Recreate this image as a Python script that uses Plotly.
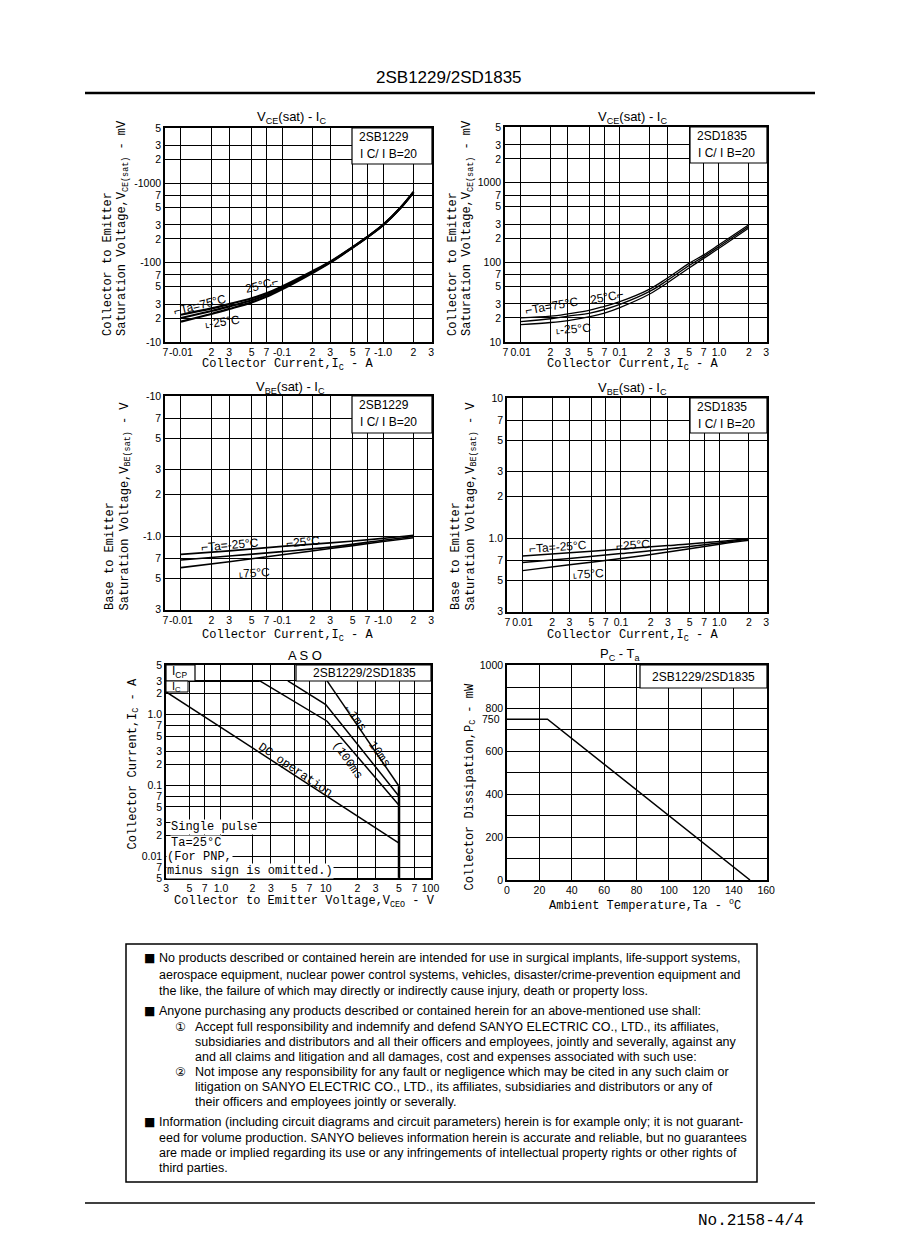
import numpy as np
import plotly.graph_objects as go

W, H = 898, 1260
OFF = 8  # page body margin of the browser


def px(x):
    return (x - OFF) / W


def py(y):
    return 1 - (y - OFF) / H


# ---------------- data ----------------
# VCE(sat) - IC, 2SB1229 (|values| in mV)
ic_vce_b = [0.01, 0.02, 0.03, 0.05, 0.07, 0.1, 0.2, 0.3, 0.5, 0.7, 1.0, 1.5, 2.0]
vce_b_75 = [22, 26.5, 30, 35.5, 41, 50, 78, 103, 157, 212, 300, 500, 780]
vce_b_25 = [20, 24.5, 28, 33.5, 39, 48, 76, 101.5, 156, 211, 299, 499, 778]
vce_b_m25 = [18, 22.5, 26, 31.5, 37, 46, 74, 100, 155, 210, 298, 498, 776]

# VCE(sat) - IC, 2SD1835 (mV)
ic_vce_d = [0.01, 0.02, 0.03, 0.05, 0.07, 0.1, 0.2, 0.3, 0.5, 0.7, 1.0, 2.0]
vce_d_75 = [20, 21, 22.5, 25, 28, 32, 46, 63, 97, 124, 166, 296]
vce_d_25 = [18, 19.5, 21, 23, 25.5, 29.5, 43, 59, 91, 118, 158, 283]
vce_d_m25 = [16.5, 17.5, 18.5, 20.7, 23, 27, 40, 55, 85, 112, 150, 270]

# VBE(sat) - IC (V)
ic_vbe = [0.01, 0.03, 0.1, 0.3, 1.0, 2.0]
vbe_b_m25 = [0.745, 0.79, 0.85, 0.90, 0.97, 1.02]
vbe_b_25 = [0.68, 0.725, 0.78, 0.84, 0.94, 1.00]
vbe_b_75 = [0.60, 0.66, 0.74, 0.82, 0.92, 0.98]
vbe_d_m25 = [0.75, 0.79, 0.84, 0.89, 0.95, 1.00]
vbe_d_25 = [0.675, 0.72, 0.78, 0.84, 0.93, 0.99]
vbe_d_75 = [0.59, 0.65, 0.72, 0.80, 0.91, 0.97]

# ASO (V, A)
aso_icp_v = [0.3, 2.35]
aso_icp_i = [3, 3]
aso_dc_v = [0.3, 50]
aso_dc_i = [2.1, 0.0155]
aso_100ms_v = [2.35, 10.3, 50]
aso_100ms_i = [3, 0.81, 0.053]
aso_10ms_v = [4.35, 10, 50]
aso_10ms_i = [3, 1.39, 0.071]
aso_1ms_v = [10.3, 50]
aso_1ms_i = [3, 0.098]
aso_vceo_v = [50, 50]
aso_vceo_i = [0.098, 0.005]

# PC - Ta
pc_ta = [0, 25, 150]
pc_mw = [750, 750, 0]

# tick values / labels
ic_ticks = [0.007, 0.01, 0.02, 0.03, 0.05, 0.07, 0.1, 0.2, 0.3, 0.5, 0.7, 1, 2, 3]
ic_text_b = ["7", "-0.01", "2", "3", "5", "7", "-0.1", "2", "3", "5", "7", "-1.0", "2", "3"]
ic_text_d = ["7", "0.01", "2", "3", "5", "7", "0.1", "2", "3", "5", "7", "1.0", "2", "3"]
vce_ticks = [10, 20, 30, 50, 70, 100, 200, 300, 500, 700, 1000, 2000, 3000, 5000]
vce_text_b = ["-10", "2", "3", "5", "7", "-100", "2", "3", "5", "7", "-1000", "2", "3", "5"]
vce_text_d = ["10", "2", "3", "5", "7", "100", "2", "3", "5", "7", "1000", "2", "3", "5"]
vbe_ticks = [0.3, 0.5, 0.7, 1, 2, 3, 5, 7, 10]
vbe_text_b = ["3", "5", "7", "-1.0", "2", "3", "5", "7", "-10"]
vbe_text_d = ["3", "5", "7", "1.0", "2", "3", "5", "7", "10"]
aso_x_ticks = [0.3, 0.5, 0.7, 1, 2, 3, 5, 7, 10, 20, 30, 50, 70, 100]
aso_x_text = ["3", "5", "7", "1.0", "2", "3", "5", "7", "10", "2", "3", "5", "7", "100"]
aso_y_ticks = [0.005, 0.007, 0.01, 0.02, 0.03, 0.05, 0.07, 0.1, 0.2, 0.3, 0.5, 0.7, 1, 2, 3, 5]
aso_y_text = ["5", "7", "0.01", "2", "3", "5", "7", "0.1", "2", "3", "5", "7", "1.0", "2", "3", "5"]
pc_x_ticks = [0, 20, 40, 60, 80, 100, 120, 140, 160]
pc_y_ticks = [0, 100, 200, 300, 400, 500, 600, 700, 800, 900, 1000]
pc_y_text = ["0", "", "200", "", "400", "", "600", "", "800", "", "1000"]

# ---------------- figure ----------------
NARROW = "Liberation Sans Narrow, Arial Narrow, Liberation Sans, Arial, sans-serif"
MONO = "Liberation Mono, Courier New, monospace"
SANS = "Liberation Sans, Arial, sans-serif"
tick_font = dict(family=NARROW, size=10.5, color="black")

fig = go.Figure()
layout = dict(
    width=W, height=H, margin=dict(l=0, r=0, t=0, b=0, pad=0), autosize=False,
    paper_bgcolor="white", plot_bgcolor="white", showlegend=False,
)


def lg(v):
    return float(np.log10(v))


def set_axes(n, xd, yd, xtype, xrange, xtv, xtt, ytype, yrange, ytv, ytt):
    sx = "" if n == 1 else str(n)
    common = dict(showgrid=True, gridcolor="black", gridwidth=1, showline=True,
                  linecolor="black", linewidth=1.5, mirror=True, ticks="",
                  tickfont=tick_font, zeroline=False, fixedrange=True,
                  automargin=False, tickangle=0)
    layout["xaxis" + sx] = dict(domain=[px(xd[0]), px(xd[1])], type=xtype, range=xrange,
                                tickmode="array", tickvals=xtv, ticktext=xtt,
                                anchor="y" + sx, **common)
    layout["yaxis" + sx] = dict(domain=[py(yd[1]), py(yd[0])], type=ytype, range=yrange,
                                tickmode="array", tickvals=ytv, ticktext=ytt,
                                anchor="x" + sx, **common)


ic_range = [lg(0.00695), lg(3.05)]
set_axes(1, (165, 432), (128, 342), "log", ic_range, ic_ticks, ic_text_b,
         "log", [lg(9.95), lg(5030)], vce_ticks, vce_text_b)
set_axes(2, (505, 767), (127, 342), "log", ic_range, ic_ticks, ic_text_d,
         "log", [lg(9.95), lg(5030)], vce_ticks, vce_text_d)
set_axes(3, (165, 432), (396, 610), "log", ic_range, ic_ticks, ic_text_b,
         "log", [lg(0.299), lg(10.05)], vbe_ticks, vbe_text_b)
set_axes(4, (507, 767), (398, 612), "log", ic_range, ic_ticks, ic_text_d,
         "log", [lg(0.299), lg(10.05)], vbe_ticks, vbe_text_d)
set_axes(5, (166, 431), (665, 878), "log", [lg(0.299), lg(101)], aso_x_ticks, aso_x_text,
         "log", [lg(0.00498), lg(5.03)], aso_y_ticks, aso_y_text)
set_axes(6, (507, 767), (665, 880), "linear", [0, 160.5], pc_x_ticks, [str(v) for v in pc_x_ticks],
         "linear", [0, 1003], pc_y_ticks, pc_y_text)


def line(x, y, n, width=1.5, shape="spline"):
    sx = "" if n == 1 else str(n)
    fig.add_trace(go.Scatter(x=x, y=y, xaxis="x" + sx, yaxis="y" + sx, mode="lines",
                             line=dict(color="black", width=width, shape=shape),
                             hoverinfo="skip", showlegend=False))


for ys in (vce_b_75, vce_b_25, vce_b_m25):
    line(ic_vce_b, ys, 1, width=2.2)
for ys in (vce_d_75, vce_d_25, vce_d_m25):
    line(ic_vce_d, ys, 2, width=1.3)
for ys in (vbe_b_m25, vbe_b_25, vbe_b_75):
    line(ic_vbe, ys, 3, width=1.6)
for ys in (vbe_d_m25, vbe_d_25, vbe_d_75):
    line(ic_vbe, ys, 4, width=1.5)

line(aso_icp_v, aso_icp_i, 5, width=2, shape="linear")
line(aso_dc_v, aso_dc_i, 5, width=1.5, shape="linear")
line(aso_100ms_v, aso_100ms_i, 5, width=1.5, shape="linear")
line(aso_10ms_v, aso_10ms_i, 5, width=1.5, shape="linear")
line(aso_1ms_v, aso_1ms_i, 5, width=1.5, shape="linear")
line(aso_vceo_v, aso_vceo_i, 5, width=2.5, shape="linear")

line(pc_ta, pc_mw, 6, width=1.5, shape="linear")

annotations = []
shapes = []


def ann(text, x, y, size=12, family=MONO, xanchor="center", yanchor="middle", angle=0,
        bg=None, align="center"):
    d = dict(text=text, x=px(x), y=py(y), xref="paper", yref="paper", showarrow=False,
             font=dict(family=family, size=size, color="black"), xanchor=xanchor,
             yanchor=yanchor, textangle=angle, align=align)
    if bg:
        d["bgcolor"] = bg
        d["borderpad"] = 0
    annotations.append(d)


def rect(x0, y0, x1, y1, width=1.2, fill="white", layer="above"):
    shapes.append(dict(type="rect", xref="paper", yref="paper", x0=px(x0), x1=px(x1),
                       y0=py(y1), y1=py(y0), line=dict(color="black", width=width),
                       fillcolor=fill, layer=layer))


def hline(x0, x1, y, width=1.5):
    shapes.append(dict(type="line", xref="paper", yref="paper", x0=px(x0), x1=px(x1),
                       y0=py(y), y1=py(y), line=dict(color="black", width=width)))


# header / footer
ann("2SB1229/2SD1835", 449, 77, size=17, family=NARROW)
hline(85, 815, 93, width=2.5)
hline(85, 815, 1203, width=1.5)
ann("No.2158-4/4", 806, 1221, size=16, family=MONO, xanchor="right")

# titles
ann("V<sub>CE</sub>(sat) - I<sub>C</sub>", 291, 117, size=13, family=NARROW)
ann("V<sub>CE</sub>(sat) - I<sub>C</sub>", 632, 117, size=13, family=NARROW)
ann("V<sub>BE</sub>(sat) - I<sub>C</sub>", 290, 387, size=13, family=NARROW)
ann("V<sub>BE</sub>(sat) - I<sub>C</sub>", 632, 388, size=13, family=NARROW)
ann("A S O", 305, 656, size=13, family=NARROW)
ann("P<sub>C</sub> - T<sub>a</sub>", 620, 655, size=13, family=NARROW)

# x axis titles
ann("Collector Current,I<sub>C</sub> - A", 287, 365, size=12)
ann("Collector Current,I<sub>C</sub> - A", 632, 365, size=12)
ann("Collector Current,I<sub>C</sub> - A", 287, 636, size=12)
ann("Collector Current,I<sub>C</sub> - A", 632, 636, size=12)
ann("Collector to Emitter Voltage,V<sub>CEO</sub> - V", 304, 902, size=12)
ann("Ambient Temperature,Ta - <sup>o</sup>C", 645, 905, size=12)

# y axis titles (rotated, bottom aligned)
ann("Collector to Emitter", 108, 338, size=12, angle=-90, yanchor="bottom")
ann("Saturation Voltage,V<sub>CE(sat)</sub> - mV", 123, 338, size=12, angle=-90, yanchor="bottom")
ann("Collector to Emitter", 453, 338, size=12, angle=-90, yanchor="bottom")
ann("Saturation Voltage,V<sub>CE(sat)</sub> - mV", 468, 338, size=12, angle=-90, yanchor="bottom")
ann("Base to Emitter", 110, 612, size=12, angle=-90, yanchor="bottom")
ann("Saturation Voltage,V<sub>BE(sat)</sub> - V", 125, 612, size=12, angle=-90, yanchor="bottom")
ann("Base to Emitter", 456, 612, size=12, angle=-90, yanchor="bottom")
ann("Saturation Voltage,V<sub>BE(sat)</sub> - V", 471, 612, size=12, angle=-90, yanchor="bottom")
ann("Collector Current,I<sub>C</sub> - A", 134, 852, size=12, angle=-90, yanchor="bottom")
ann("Collector Dissipation,P<sub>C</sub> - mW", 471, 892, size=12, angle=-90, yanchor="bottom")

# in-plot info boxes
for (x0, y0, x1, y1, name) in [(352, 128, 432, 164, "2SB1229"), (690, 127, 767, 163, "2SD1835"),
                               (352, 396, 432, 433, "2SB1229"), (690, 398, 767, 433, "2SD1835")]:
    rect(x0, y0, x1, y1)
    ann(name, x0 + 5, y0 + 9, size=12, family=NARROW, xanchor="left")
    ann("I C/ I B=20", x0 + 6, y0 + 26, size=12, family=NARROW, xanchor="left")

rect(296, 665, 431, 681)
ann("2SB1229/2SD1835", 364, 673, size=12, family=NARROW)
rect(640, 665, 767, 688)
ann("2SB1229/2SD1835", 703, 677, size=12, family=NARROW)
rect(166, 665, 195, 681)
ann("I<sub>CP</sub>", 170, 672, size=12, family=NARROW, xanchor="left")
rect(166, 681, 188, 692, width=1)
ann("I<sub>C</sub>", 170, 687, size=11, family=NARROW, xanchor="left")

# ASO notes
ann("Single pulse", 170, 827, size=12, xanchor="left", bg="white")
ann("Ta=25°C", 170, 843, size=12, xanchor="left", bg="white")
ann("(For PNP,", 166, 857, size=12, xanchor="left", bg="white")
ann("minus sign is omitted.)", 166, 871, size=12, xanchor="left", bg="white")
ann("DC operation", 295, 770, size=12, angle=34)
ann("←1ms", 355, 718, size=12, angle=55)
ann("10ms", 379, 754, size=12, angle=55)
ann("(100ms", 347, 760, size=12, angle=55)

# curve labels
ann("⌐Ta=75°C", 200, 305, size=12, family=NARROW, angle=-14)
ann("25°C⌐", 262, 285, size=12, family=NARROW, angle=-14)
ann("˪-25°C", 222, 322, size=12, family=NARROW, angle=-8)
ann("⌐Ta=75°C", 552, 306, size=12, family=NARROW, angle=-10)
ann("25°C⌐", 607, 297, size=12, family=NARROW, angle=-10)
ann("˪-25°C", 573, 329, size=12, family=NARROW, angle=-4)
ann("⌐Ta=-25°C", 230, 545, size=12, family=NARROW, angle=-5)
ann("⌐25°C", 303, 542, size=12, family=NARROW, angle=-5)
ann("˪75°C", 254, 573, size=12, family=NARROW, angle=-3)
ann("⌐Ta=-25°C", 558, 547, size=12, family=NARROW, angle=-4)
ann("⌐25°C", 633, 545, size=12, family=NARROW, angle=-4)
ann("˪75°C", 588, 574, size=12, family=NARROW, angle=-3)

# PC-Ta extra label
ann("750", 502, 719, size=10.5, family=NARROW, xanchor="right")

# disclaimer box
rect(126, 944, 757, 1182, width=1.5, fill="rgba(0,0,0,0)", layer="below")
disc_lines = [
    (157, 958, "No products described or contained herein are intended for use in surgical implants, life-support systems,"),
    (157, 975, "aerospace equipment, nuclear power control systems, vehicles, disaster/crime-prevention equipment and"),
    (157, 991, "the like, the failure of which may directly or indirectly cause injury, death or property loss."),
    (157, 1011, "Anyone purchasing any products described or contained herein for an above-mentioned use shall:"),
    (193, 1027, "Accept full responsibility and indemnify and defend SANYO ELECTRIC CO., LTD., its affiliates,"),
    (193, 1042, "subsidiaries and distributors and all their officers and employees, jointly and severally, against any"),
    (193, 1057, "and all claims and litigation and all damages, cost and expenses associated with such use:"),
    (193, 1072, "Not impose any responsibility for any fault or negligence which may be cited in any such claim or"),
    (193, 1087, "litigation on SANYO ELECTRIC CO., LTD., its affiliates, subsidiaries and distributors or any of"),
    (193, 1102, "their officers and employees jointly or severally."),
    (157, 1122, "Information (including circuit diagrams and circuit parameters) herein is for example only; it is not guarant-"),
    (157, 1138, "eed for volume production. SANYO believes information herein is accurate and reliable, but no guarantees"),
    (157, 1153, "are made or implied regarding its use or any infringements of intellectual property rights or other rights of"),
    (157, 1168, "third parties."),
]
for x, y, t in disc_lines:
    ann(t, x, y, size=12.5, family=SANS, xanchor="left")
for y in (958, 1011, 1122):
    ann("■", 142, y, size=12, family="DejaVu Sans", xanchor="left")
ann("①", 173, 1027, size=12, family="DejaVu Sans, Noto Sans CJK JP", xanchor="left")
ann("②", 173, 1072, size=12, family="DejaVu Sans, Noto Sans CJK JP", xanchor="left")

layout["annotations"] = annotations
layout["shapes"] = shapes
fig.update_layout(**layout)
fig.write_html("out.html")
